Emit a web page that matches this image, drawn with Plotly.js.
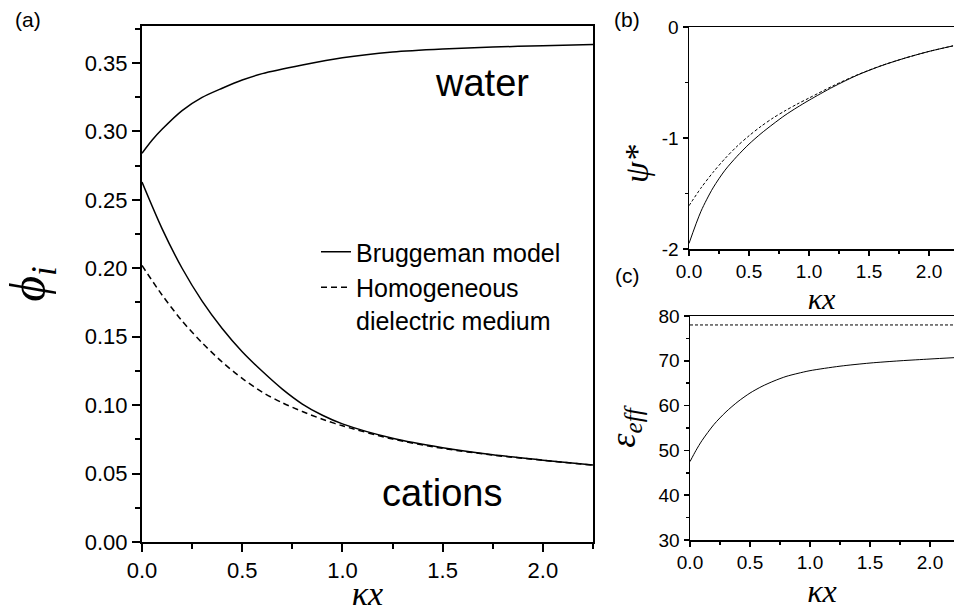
<!DOCTYPE html>
<html><head><meta charset="utf-8">
<script src="https://cdn.plot.ly/plotly-3.0.1.min.js"></script>
<style>html,body{margin:0;padding:0;background:#fff}#chart{width:954px;height:612px}</style>
</head><body><div id="chart"></div>
<script>
// ---- Panel (a): volume fractions phi_i vs kappa x ----
const xWater = [0,0.05,0.1,0.2,0.3,0.4,0.5,0.6,0.8,1.0,1.25,1.5,1.75,2.0,2.25];
const phiWater = [0.284,0.2935,0.3015,0.3152,0.3248,0.3315,0.3375,0.3422,0.3485,0.3538,0.358,0.3602,0.3616,0.3626,0.3635];
const xCat = [0,0.1,0.2,0.3,0.4,0.5,0.6,0.7,0.8,0.9,1.0,1.25,1.5,1.75,2.0,2.25];
const phiCatBrug = [0.263,0.229,0.200,0.176,0.156,0.139,0.1247,0.1117,0.1008,0.0926,0.0863,0.0758,0.0689,0.0637,0.0598,0.0562];
const phiCatHom  = [0.202,0.1805,0.1615,0.1455,0.1315,0.1195,0.1095,0.1017,0.0953,0.0897,0.0849,0.0752,0.0684,0.0635,0.0597,0.0561];
// ---- Panel (b): potential psi* ----
const xPsi = [0,0.1,0.2,0.3,0.4,0.5,0.6,0.7,0.8,0.9,1.0,1.2,1.4,1.6,1.8,2.0,2.2];
const psiBrug = [-1.95,-1.66,-1.45,-1.29,-1.165,-1.055,-0.96,-0.875,-0.795,-0.725,-0.66,-0.54,-0.435,-0.35,-0.28,-0.22,-0.17];
const psiHom  = [-1.61,-1.45,-1.31,-1.185,-1.075,-0.98,-0.895,-0.82,-0.755,-0.695,-0.64,-0.53,-0.432,-0.349,-0.28,-0.22,-0.17];
const psiTickVals = [0,-1,-2];
const psiTickText = ['0','-1','-2'];
// ---- Panel (c): effective permittivity ----
const xEps = [0,0.05,0.1,0.2,0.3,0.4,0.5,0.6,0.7,0.8,0.9,1.0,1.25,1.5,1.75,2.0,2.2];
const epsBrug = [47.5,50.0,52.2,55.8,58.6,60.9,62.8,64.3,65.5,66.5,67.2,67.8,68.8,69.5,70.0,70.4,70.7];
const xEpsHom = [0,2.2];
const epsHom = [78,78];

const seriesNames = ['Bruggeman model','Homogeneous<br>dielectric medium'];

const SANS = 'Liberation Sans, Arial, sans-serif';
const SERIF = 'Liberation Serif, Times New Roman, serif';
const black = '#000';

const traces = [
  {x:xWater, y:phiWater, xaxis:'x', yaxis:'y', mode:'lines', line:{color:black,width:1.5,shape:'spline',smoothing:0.8}, showlegend:false, name:'water'},
  {x:xCat, y:phiCatBrug, xaxis:'x', yaxis:'y', mode:'lines', line:{color:black,width:1.5,shape:'spline',smoothing:0.8}, name:seriesNames[0], showlegend:true},
  {x:xCat, y:phiCatHom, xaxis:'x', yaxis:'y', mode:'lines', line:{color:black,width:1.5,dash:'6px,4px',shape:'spline',smoothing:0.8}, name:seriesNames[1], showlegend:true},
  {x:xPsi, y:psiBrug, xaxis:'x2', yaxis:'y2', mode:'lines', line:{color:black,width:1,shape:'spline',smoothing:0.8}, showlegend:false},
  {x:xPsi, y:psiHom, xaxis:'x2', yaxis:'y2', mode:'lines', line:{color:black,width:1,dash:'3px,2px',shape:'spline',smoothing:0.8}, showlegend:false},
  {x:xEps, y:epsBrug, xaxis:'x3', yaxis:'y3', mode:'lines', line:{color:black,width:1,shape:'spline',smoothing:0.8}, showlegend:false},
  {x:xEpsHom, y:epsHom, xaxis:'x3', yaxis:'y3', mode:'lines', line:{color:black,width:1,dash:'3px,2px'}, showlegend:false}
];

function axisCommon(fontSize, lw, tlen) {
  return {
    showgrid:false, zeroline:false, showline:true, linecolor:black, linewidth:lw, mirror:true,
    ticks:'outside', ticklen:tlen, tickwidth:lw, tickcolor:black,
    tickfont:{family:SANS,size:fontSize,color:black},
    automargin:false, fixedrange:true
  };
}

const W = 954, H = 612;
const px = v => v / W;
const py = v => (H - v) / H;

const layout = {
  width:W, height:H,
  margin:{l:0,r:0,t:0,b:0},
  paper_bgcolor:'#fff', plot_bgcolor:'#fff',
  font:{family:SANS,color:black},
  showlegend:true,
  legend:{x:px(316), y:py(229), xanchor:'left', yanchor:'top', bgcolor:'rgba(0,0,0,0)', borderwidth:0,
          font:{family:SANS,size:25,color:black}, valign:'top', tracegroupgap:0, itemwidth:30},
  xaxis: Object.assign(axisCommon(22,2,8), {
    domain:[px(142),px(593)], range:[0,2.25], dtick:0.5, tick0:0, tickformat:'.1f',
    minor:{ticks:'outside', ticklen:5, tickwidth:2, tickcolor:black, dtick:0.25, showgrid:false},
    anchor:'y',
    title:{text:'<i>κx</i>', font:{family:SERIF,size:34,color:black}, standoff:3}
  }),
  yaxis: Object.assign(axisCommon(22,2,8), {
    domain:[py(542),py(26)], range:[0,0.377], dtick:0.05, tick0:0, tickformat:'.2f',
    minor:{ticks:'outside', ticklen:5, tickwidth:2, tickcolor:black, dtick:0.025, showgrid:false},
    anchor:'x',
    title:{text:'<i>ϕ<sub>i</sub></i>', font:{family:SERIF,size:50,color:black}, standoff:24}
  }),
  xaxis2: Object.assign(axisCommon(19,1.5,5), {
    domain:[px(689),1], range:[0,2.208], dtick:0.5, tick0:0, tickformat:'.1f',
    minor:{ticks:'outside', ticklen:3, tickwidth:1.5, tickcolor:black, dtick:0.25, showgrid:false},
    anchor:'y2',
    title:{text:'<i>κx</i>', font:{family:SERIF,size:30,color:black}, standoff:0}
  }),
  yaxis2: Object.assign(axisCommon(19,1.5,5), {
    domain:[py(249),py(27)], range:[-2,0], tickvals:psiTickVals, ticktext:psiTickText, mirror:false,
    minor:{ticks:'outside', ticklen:3, tickwidth:1.5, tickcolor:black, dtick:0.5, tick0:0, showgrid:false},
    anchor:'x2'
  }),
  xaxis3: Object.assign(axisCommon(19,1.5,5), {
    domain:[px(690),1], range:[0,2.2], dtick:0.5, tick0:0, tickformat:'.1f',
    minor:{ticks:'outside', ticklen:3, tickwidth:1.5, tickcolor:black, dtick:0.25, showgrid:false},
    anchor:'y3',
    title:{text:'<i>κx</i>', font:{family:SERIF,size:32,color:black}, standoff:6}
  }),
  yaxis3: Object.assign(axisCommon(19,1.5,5), {
    domain:[py(540),py(316)], range:[30,80], dtick:10, tick0:0, mirror:false,
    minor:{ticks:'outside', ticklen:3, tickwidth:1.5, tickcolor:black, dtick:5, showgrid:false},
    anchor:'x3',
    title:{text:'<i>ε<sub>eff</sub></i>', font:{family:SERIF,size:36,color:black}, standoff:12}
  }),
  annotations:[
    {text:'(a)', xref:'paper', yref:'paper', x:px(28), y:py(20), xanchor:'center', yanchor:'middle', showarrow:false, font:{family:SANS,size:21,color:black}},
    {text:'(b)', xref:'paper', yref:'paper', x:px(627), y:py(20), xanchor:'center', yanchor:'middle', showarrow:false, font:{family:SANS,size:21,color:black}},
    {text:'(c)', xref:'paper', yref:'paper', x:px(627), y:py(276), xanchor:'center', yanchor:'middle', showarrow:false, font:{family:SANS,size:21,color:black}},
    {text:'<i>ψ*</i>', xref:'paper', yref:'paper', x:px(636), y:py(164), xanchor:'center', yanchor:'middle', textangle:-90, showarrow:false, font:{family:SERIF,size:34,color:black}},
    {text:'water', xref:'x', yref:'y', x:1.695, y:0.335, xanchor:'center', yanchor:'middle', showarrow:false, font:{family:SANS,size:38,color:black}},
    {text:'cations', xref:'x', yref:'y', x:1.495, y:0.036, xanchor:'center', yanchor:'middle', showarrow:false, font:{family:SANS,size:38,color:black}}
  ]
};

Plotly.newPlot('chart', traces, layout, {displayModeBar:false, staticPlot:true});
</script>
</body></html>
